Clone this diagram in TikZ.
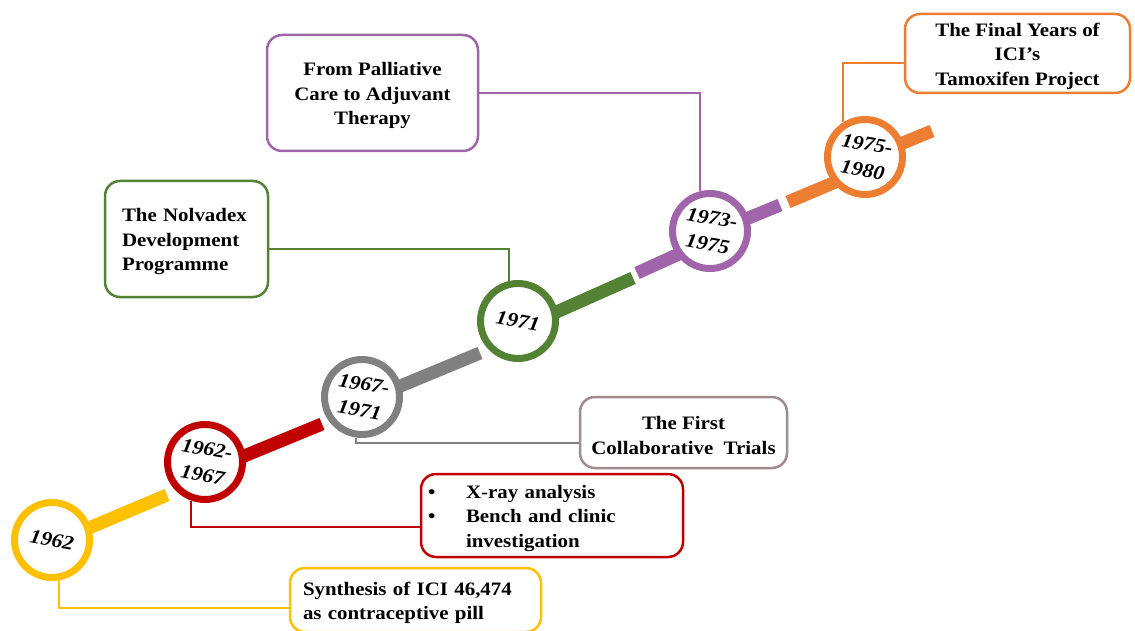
\documentclass[tikz,border=0pt]{standalone}
\usepackage{fontspec}
\setmainfont{Liberation Serif}[FakeStretch=1.1]
\usetikzlibrary{positioning}
\definecolor{cyel}{HTML}{FFC000}
\definecolor{cred}{HTML}{C00000}
\definecolor{cgry}{HTML}{808080}
\definecolor{cgrn}{HTML}{548235}
\definecolor{cpur}{HTML}{A064AA}
\definecolor{corg}{HTML}{ED7D31}
\definecolor{cros}{HTML}{A08C8C}
\pgfdeclarelayer{bg}
\pgfsetlayers{bg,main}
\tikzset{
  ring/.style={circle, draw=#1, line width=7pt, fill=white, minimum size=75pt, inner sep=0pt},
  yearlbl/.style={rotate=-10, align=center, inner sep=0pt,
    font=\fontsize{20}{26}\selectfont\bfseries\itshape},
  bar/.style={line width=13pt, line cap=butt, draw=#1},
  tbox/.style={draw=#1, line width=2.5pt, rounded corners=15pt, fill=white,
    font=\fontsize{19}{24.5}\selectfont\bfseries, inner sep=0pt},
  conn/.style={draw=#1, line width=2pt},
}
\newcommand{\topstrut}{\rule{0pt}{19pt}}
\begin{document}
\begin{tikzpicture}[x=1pt,y=-1pt]
\useasboundingbox (0,0) rectangle (1135,631);
% circles
\node[ring=cyel] (c1) at (52,540) {};
\node[ring=cred] (c2) at (205,462) {};
\node[ring=cgry] (c3) at (362,397) {};
\node[ring=cgrn] (c4) at (518,321) {};
\node[ring=cpur] (c5) at (710,231) {};
\node[ring=corg] (c6) at (865,157) {};
\node[yearlbl] (t1) at (c1) {1962};
\node[yearlbl] (t2) at (c2) {1962-\\1967};
\node[yearlbl] (t3) at (c3) {1967-\\1971};
\node[yearlbl] (t4) at (c4) {1971};
\node[yearlbl] (t5) at (c5) {1973-\\1975};
\node[yearlbl] (t6) at (c6) {1975-\\1980};
% boxes
\node[tbox=cyel, minimum width=251pt, minimum height=64pt, text width=225pt, align=left] (b1) at (415.5,600)
  {\topstrut\mbox{Synthesis of ICI 46,474}\\\mbox{as contraceptive pill}};
\node[tbox=cred, minimum width=262pt, minimum height=83pt, text width=248pt, align=left] (b2) at (552,515.5)
  {\topstrut\mbox{\makebox[38pt][l]{\textbullet}X-ray analysis}\\\mbox{\makebox[38pt][l]{\textbullet}Bench and clinic}\\\mbox{\hspace*{38pt}investigation}};
\node[tbox=cros, minimum width=207pt, minimum height=71pt, align=center] (b3) at (683.5,432.5)
  {\topstrut The First\\Collaborative~~Trials};
\node[tbox=cgrn, minimum width=163pt, minimum height=116pt, text width=129pt, align=left] (b4) at (186.5,239)
  {\topstrut\mbox{The Nolvadex}\\\mbox{Development}\\\mbox{Programme}};
\node[tbox=cpur, minimum width=211pt, minimum height=116pt, align=center] (b5) at (372.5,93)
  {\topstrut From Palliative\\Care to Adjuvant\\Therapy};
\node[tbox=corg, minimum width=225pt, minimum height=79pt, align=center] (b6) at (1017.5,53.5)
  {\topstrut The Final Years of\\ICI’s\\Tamoxifen Project};
\begin{pgfonlayer}{bg}
  % bars
  \draw[bar=cyel] (77,533) -- (167,495);
  \draw[bar=cred] (232,461) -- (322,424);
  \draw[bar=cgry] (386,392) -- (480,353);
  \draw[bar=cgrn] (543,318) -- (633,278);
  \draw[bar=cpur] (637,273) -- (690,249);
  \draw[bar=cpur] (729,226) -- (780,205);
  \draw[bar=corg] (788,202) -- (845,178);
  \draw[bar=corg] (881,152) -- (932,131);
  % connectors
  \draw[conn=cyel] (c1.-80) |- ([yshift=-8pt]b1.west);
  \draw[conn=cred] (c2.-110) |- ([yshift=-11.5pt]b2.west);
  \draw[conn=cgry] (c3.-98) |- ([yshift=-10pt]b3.west);
  \draw[conn=cgrn] ([yshift=-10pt]b4.east) -| (c4.103);
  \draw[conn=cpur] (b5.east) -| (c5.104);
  \draw[conn=corg] ([yshift=-9.5pt]b6.west) -| (c6.122);
\end{pgfonlayer}
\end{tikzpicture}
\end{document}
